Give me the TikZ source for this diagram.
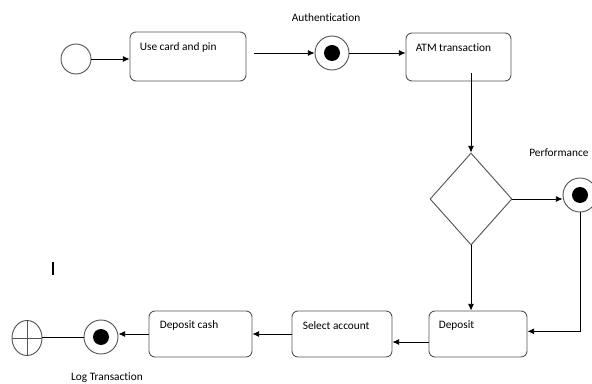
\documentclass[tikz,border=0pt]{standalone}
\usepackage{fontspec}
\setmainfont{Carlito}[Ligatures=NoCommon]
\usetikzlibrary{shapes.geometric,arrows.meta}
\definecolor{edge}{HTML}{555555}
\begin{document}
\begin{tikzpicture}[x=0.75pt,y=-0.75pt,
  font=\fontsize{8.5}{10}\selectfont,
  statebox/.style={draw=edge,line width=0.7pt,rounded corners=4.5pt,minimum width=#1,inner sep=0pt},
  statebox/.default=80pt,
  txt/.style={anchor=west,inner sep=0pt},
  startc/.style={circle,draw=edge,line width=0.7pt,minimum size=22.5pt,inner sep=0pt},
  finalc/.style={circle,draw=edge,line width=0.7pt,minimum size=25.5pt,inner sep=0pt,
     path picture={\fill[black] (path picture bounding box.center) circle (6pt);}},
  conn/.style={line width=0.6pt,-{Latex[length=5pt,width=4.5pt]}},
  plain/.style={line width=0.6pt}]
\useasboundingbox (0,0) rectangle (592,384);
% nodes
\node[startc] (start) at (76,59) {};
\node[statebox=87pt,minimum height=36.75pt] (usecard) at (188,56.5) {};
\node[txt] (tusecard) at ([shift={(10,16)}]usecard.north west) {Use card and pin};
\node[finalc] (auth) at (332,53) {};
\node[anchor=center,inner sep=0pt] (lauth) at (326,18) {Authentication};
\node[statebox=78.75pt,minimum height=36pt] (atm) at (458.5,57) {};
\node[txt] (tatm) at ([shift={(10,15)}]atm.north west) {ATM transaction};
\node[diamond,draw=edge,line width=0.7pt,minimum width=61.5pt,minimum height=69pt,inner sep=0pt] (dec) at (471,199) {};
\node[finalc] (perf) at (580,195) {};
\node[txt] (lperf) at (529,153) {Performance};
\node[statebox=73.5pt,minimum height=34.5pt] (deposit) at (478,334) {};
\node[txt] (tdeposit) at ([shift={(10,15)}]deposit.north west) {Deposit};
\node[statebox=75pt,minimum height=34.5pt] (select) at (342,334) {};
\node[txt] (tselect) at ([shift={(11,15)}]select.north west) {Select account};
\node[statebox=77.25pt,minimum height=34.5pt] (depcash) at (200.5,334) {};
\node[txt] (tdepcash) at ([shift={(11,15)}]depcash.north west) {Deposit cash};
\node[finalc] (log) at (101,337) {};
\node[anchor=center,inner sep=0pt] (llog) at (107,378) {Log Transaction};
\node[ellipse,draw=edge,line width=0.7pt,minimum width=22.5pt,minimum height=26.25pt,inner sep=0pt] (end) at (27,338) {};
\draw[edge,line width=0.6pt] (end.north) -- (end.south) (end.west) -- (end.east);
% stray mark
\coordinate (m1) at (53,262);
\coordinate (m2) at (53,275);
\draw[line width=1pt] (m1) -- (m2);
% connectors
\draw[conn] (start.east) -- (start.east -| usecard.west);
\coordinate (a0) at ([xshift=6]usecard.east |- auth);
\draw[conn] (a0) -- (auth.west);
\draw[conn] (auth.east) -- (auth.east -| atm.west);
\coordinate (a1) at ([yshift=6]dec.north |- atm.south);
\draw[conn] (a1) -- (dec.north);
\draw[conn] (dec.east) -- (dec.east -| perf.west);
\draw[conn] (perf.south) |- ([yshift=2]deposit.east);
\draw[conn] (dec.south) -- (dec.south |- deposit.north);
\draw[conn] ([yshift=-6]deposit.west) -- ([yshift=-6]deposit.west -| select.east);
\draw[conn] (select.west) -- (select.west -| depcash.east);
\draw[conn] (depcash.west) -- (depcash.west -| log.east);
\draw[plain] (log.west) -- (log.west -| end.east);
\end{tikzpicture}
\end{document}
